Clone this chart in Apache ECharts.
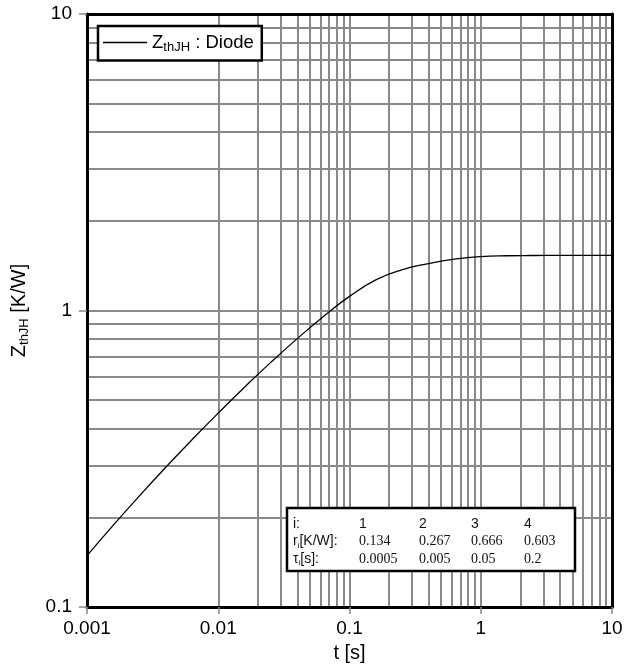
<!DOCTYPE html>
<html>
<head>
<meta charset="utf-8">
<script src="https://cdn.jsdelivr.net/npm/echarts@6/dist/echarts.min.js"></script>
<style>
  html, body { margin: 0; padding: 0; background: #fff; }
  #chart { width: 627px; height: 668px; }
</style>
</head>
<body>
<div id="chart"></div>
<script>
// Transient thermal impedance curve, junction to heatsink (diode)
const timeS = [0.001, 0.0016, 0.0025, 0.004, 0.0063, 0.01, 0.016, 0.025, 0.04, 0.063, 0.1, 0.16, 0.25, 0.4, 0.63, 1, 1.6, 2.5, 4, 6.3, 10];
const zthJH = [0.149, 0.1895, 0.2365, 0.2966, 0.3664, 0.451, 0.5534, 0.6671, 0.8038, 0.9528, 1.116, 1.271, 1.372, 1.44, 1.49, 1.52, 1.53, 1.533, 1.535, 1.535, 1.535];

// Foster model parameters shown in the inset table
const stageIndex = ['1', '2', '3', '4'];
const rValues = ['0.134', '0.267', '0.666', '0.603'];
const tauValues = ['0.0005', '0.005', '0.05', '0.2'];

// Axis ranges (decades)
const xDecades = [0.001, 0.01, 0.1, 1, 10];
const yDecades = [0.1, 1, 10];

const FONT = '"Liberation Sans", Arial, sans-serif';
const SERIF = '"Liberation Serif", "Times New Roman", serif';
const GRID_GRAY = '#8a8a8a';

// Gridlines at every 1..9 multiple inside the plotted decades
function logGridValues(decades) {
  const vals = [];
  for (let d = 0; d < decades.length - 1; d++) {
    for (let m = 1; m <= 9; m++) {
      if (d === 0 && m === 1) continue;
      vals.push(parseFloat((decades[d] * m).toPrecision(6)));
    }
  }
  return vals;
}
const gridLines = logGridValues(xDecades).map(v => ({ xAxis: v }))
  .concat(logGridValues(yDecades).map(v => ({ yAxis: v })));

const curve = timeS.map((t, i) => [t, zthJH[i]]);

const chart = echarts.init(document.getElementById('chart'), null, { renderer: 'canvas' });

const frameAxis = (pos) => ({
  type: 'log', logBase: 10, position: pos, z: 6,
  axisLine: { show: true, lineStyle: { color: '#000', width: 3 } },
  axisTick: { show: false }, axisLabel: { show: false }, splitLine: { show: false }
});

// Subscript styling shared by the rich labels
function subRich(size, subSize, lh, color) {
  return {
    a: { fontSize: size, fontFamily: FONT, color: color, lineHeight: lh },
    s: { fontSize: subSize, fontFamily: FONT, color: color, lineHeight: Math.round(subSize * 1.15), verticalAlign: 'bottom' }
  };
}

// Inset table of thermal model parameters
const colX = [293, 359, 419, 471, 524];
const rowY = [524, 541.5, 559];
const tableEls = [{
  type: 'rect', z: 10,
  shape: { x: 287, y: 508, width: 288, height: 63 },
  style: { fill: '#fff', stroke: '#000', lineWidth: 2.5 }
}];
const rowLabels = ['{a|i:}', '{a|r}{s|i}{a|[K/W]:}', '{a|τ}{s|i}{a|[s]:}'];
const tRich = {
  a: { fontSize: 14, fontFamily: FONT, fill: '#111', lineHeight: 16 },
  s: { fontSize: 8, fontFamily: FONT, fill: '#111', lineHeight: 10, verticalAlign: 'bottom' }
};
rowLabels.forEach((txt, i) => {
  tableEls.push({
    type: 'text', z: 11, x: colX[0], y: rowY[i],
    style: { text: txt, font: '14px ' + FONT, fill: '#111', verticalAlign: 'middle', rich: tRich }
  });
});
[stageIndex, rValues, tauValues].forEach((row, ri) => {
  row.forEach((txt, ci) => {
    tableEls.push({
      type: 'text', z: 11, x: colX[ci + 1], y: rowY[ri],
      style: {
        text: txt,
        font: ri === 0 ? '14px ' + FONT : '14px ' + SERIF,
        fill: '#111', verticalAlign: 'middle'
      }
    });
  });
});

const option = {
  animation: false,
  backgroundColor: '#fff',
  grid: { left: 87, right: 15, top: 14, bottom: 59, containLabel: false },
  legend: {
    left: 98, top: 26, z: 20,
    padding: [7, 8, 7, 5],
    borderColor: '#000', borderWidth: 2.5, backgroundColor: '#fff',
    itemWidth: 44, itemHeight: 1.5, icon: 'rect',
    data: ['ZthJH'],
    formatter: () => '{a|Z}{s|thJH}{a| : Diode}',
    textStyle: {
      color: '#000', fontFamily: FONT, fontSize: 18.5,
      rich: subRich(18.5, 13, 22, '#000')
    }
  },
  xAxis: [{
    type: 'log', logBase: 10, min: xDecades[0], max: xDecades[xDecades.length - 1],
    position: 'bottom', z: 6,
    axisLine: { show: true, lineStyle: { color: '#000', width: 3 } },
    axisTick: { show: true, length: 7, lineStyle: { color: '#888', width: 1.5 } },
    axisLabel: { color: '#000', fontSize: 19, fontFamily: FONT, margin: 12 },
    splitLine: { show: false },
    name: 't [s]', nameLocation: 'middle', nameGap: 36,
    nameTextStyle: { color: '#000', fontSize: 20, fontFamily: FONT }
  }, Object.assign(frameAxis('top'), { min: xDecades[0], max: xDecades[xDecades.length - 1] })],
  yAxis: [{
    type: 'log', logBase: 10, min: yDecades[0], max: yDecades[yDecades.length - 1],
    position: 'left', z: 6,
    axisLine: { show: true, lineStyle: { color: '#000', width: 3 } },
    axisTick: { show: true, length: 8, lineStyle: { color: '#888', width: 1.5 } },
    axisLabel: { color: '#000', fontSize: 19, fontFamily: FONT, margin: 15 },
    splitLine: { show: false },
    name: '{a|Z}{s|thJH}{a| [K/W]}', nameLocation: 'middle', nameGap: 56, nameRotate: 90,
    nameTextStyle: {
      color: '#000', fontSize: 20, fontFamily: FONT,
      rich: subRich(20, 13, 23, '#000')
    }
  }, Object.assign(frameAxis('right'), { min: yDecades[0], max: yDecades[yDecades.length - 1] })],
  series: [{
    name: 'grid', type: 'line', xAxisIndex: 0, yAxisIndex: 0, z: 1,
    data: [], symbol: 'none', silent: true,
    markLine: {
      z: 1, silent: true, symbol: ['none', 'none'], animation: false,
      label: { show: false },
      lineStyle: { color: GRID_GRAY, width: 2, type: 'solid' },
      emphasis: { disabled: true },
      data: gridLines
    }
  }, {
    name: 'ZthJH', type: 'line', xAxisIndex: 0, yAxisIndex: 0, z: 3,
    data: curve, showSymbol: false, symbol: 'none',
    smooth: 0.5,
    lineStyle: { color: '#000', width: 1.3 },
    itemStyle: { color: '#000' }
  }],
  graphic: tableEls
};

chart.setOption(option);
</script>
</body>
</html>
